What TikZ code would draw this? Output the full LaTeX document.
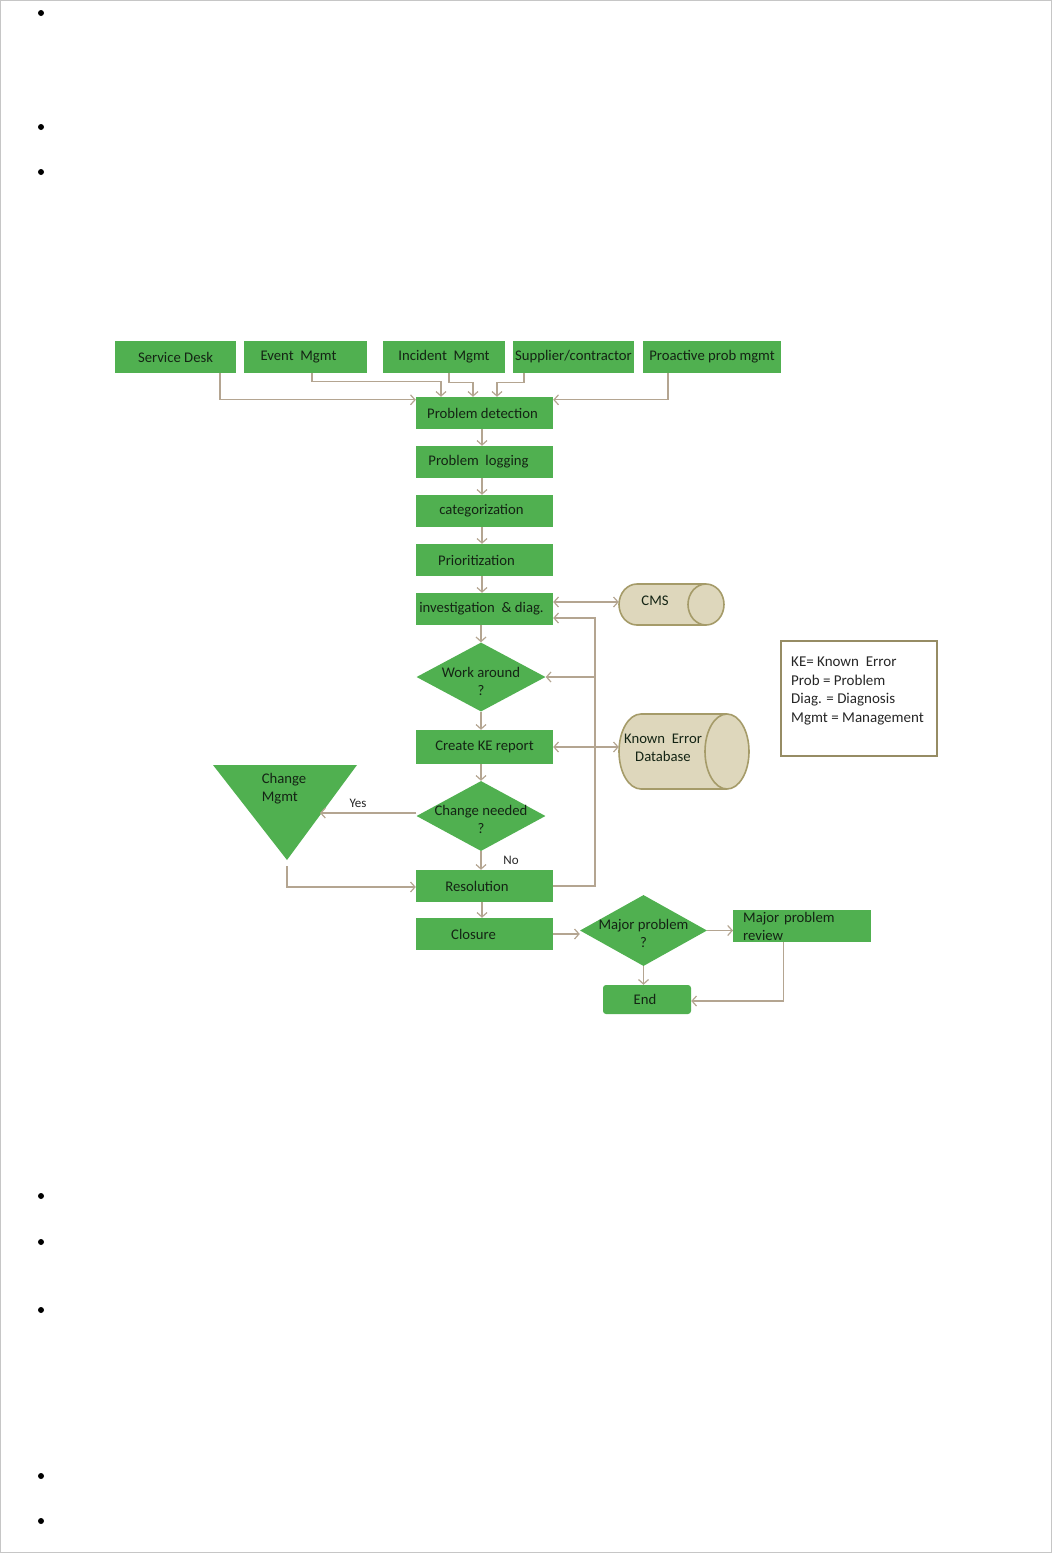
\documentclass[tikz,border=0pt]{standalone}
\usepackage{fontspec}
\setmainfont{Carlito}
\usetikzlibrary{shapes.geometric,arrows.meta}
\definecolor{gfill}{RGB}{80,176,80}
\definecolor{gtext}{RGB}{20,36,20}
\definecolor{conn}{RGB}{180,165,145}
\definecolor{cylfill}{RGB}{222,215,188}
\definecolor{cyldraw}{RGB}{165,155,105}
\definecolor{legdraw}{RGB}{150,140,100}
\begin{document}
\begin{tikzpicture}[x=1pt,y=-1pt,
  font=\fontsize{14.7}{17}\selectfont,
  gbox/.style={rectangle,fill=gfill,text=gtext,inner sep=0pt,minimum height=32pt,minimum width=137pt},
  gdia/.style={diamond,fill=gfill,inner sep=0pt,minimum width=129pt,minimum height=69pt},
  dlabel/.style={align=center,text=gtext,font=\fontsize{14.7}{18}\selectfont},
  cylline/.style={draw=cyldraw,line width=1.6pt},
  arr/.style={draw=conn,line width=1.2pt,-{Straight Barb[length=4.5pt,width=10pt]}},
  darr/.style={draw=conn,line width=1.2pt,{Straight Barb[length=4.5pt,width=10pt]}-{Straight Barb[length=4.5pt,width=10pt]}},
  small/.style={text=black!85,font=\fontsize{13}{15}\selectfont}]
\useasboundingbox (0,0) rectangle (1052,1553);
\draw[gray!45,line width=1pt] (0.5,0.5) rectangle (1051.5,1552.5);
% bullets
\foreach \yy in {13,127,172,1196,1242,1310,1476,1521}
  \fill (41,\yy) circle (3pt);

% sources
\node[gbox,minimum width=121pt] (sd) at (175.5,357) {Service Desk};
\node[gbox,minimum width=123pt] (em) at (305.5,357) {Event\ \ Mgmt\hspace*{14pt}};
\node[gbox,minimum width=122pt] (im) at (444,357) {Incident\ \ Mgmt};
\node[gbox,minimum width=121pt] (sc) at (573.5,357) {Supplier/contractor};
\node[gbox,minimum width=138pt] (pp) at (712,357) {Proactive prob mgmt};

% main chain
\node[gbox] (pd) at (484.5,413) {Problem detection\hspace*{4pt}};
\node[gbox] (pl) at (484.5,462) {Problem\ \ logging\hspace*{12pt}};
\node[gbox] (cat) at (484.5,511) {categorization\hspace*{6pt}};
\node[gbox] (pri) at (484.5,560) {Prioritization\hspace*{16pt}};
\node[gbox] (inv) at (484.5,609) {investigation\ \ \& diag.\hspace*{6pt}};
\node[gdia,label={[dlabel,yshift=-4pt]center:Work around\\?}] (wa) at (481,677) {};
\node[gbox,minimum height=34pt] (ke) at (484.5,747) {Create KE report};
\node[gdia,minimum height=70pt,label={[dlabel,yshift=-3.5pt]center:Change needed\\?}] (cn) at (481,816) {};
\node[gbox] (res) at (484.5,886) {Resolution\hspace*{15pt}};
\node[gbox] (clo) at (484.5,934) {Closure\hspace*{22pt}};
\node[gdia,minimum width=127pt,minimum height=71pt,label={[dlabel,yshift=-3pt]center:Major problem\\?}] (mp) at (643.5,930.5) {};
\node[gbox,minimum width=138pt,align=left,text width=118pt,font=\fontsize{14.7}{18}\selectfont,anchor=north west] (mpr) at (733,910) {Major problem\\review};
\node[gbox,minimum width=88pt,minimum height=29pt,rounded corners=3pt] (end) at (647,999.5) {End\hspace*{4pt}};

% databases (drawn by hand, with invisible nodes for the anchors)
\node[inner sep=0pt,minimum width=105pt,minimum height=41pt] (cms) at (671.5,604.5) {};
\filldraw[cylline,fill=cylfill] (637,604.5) ellipse [x radius=18pt,y radius=20.5pt];
\fill[cylfill] (637,584) rectangle (706,625);
\draw[cylline] (637,584) -- (706,584) (637,625) -- (706,625);
\filldraw[cylline,fill=cylfill] (706,604.5) ellipse [x radius=18pt,y radius=20.5pt];
\node[text=gtext] (cmst) at (655,601) {CMS};

\node[inner sep=0pt,minimum width=130pt,minimum height=75pt] (kedb) at (684,751.5) {};
\filldraw[cylline,fill=cylfill] (641,751.5) ellipse [x radius=22pt,y radius=37.5pt];
\fill[cylfill] (641,714) rectangle (727,789);
\draw[cylline] (641,714) -- (727,714) (641,789) -- (727,789);
\filldraw[cylline,fill=cylfill] (727,751.5) ellipse [x radius=22pt,y radius=37.5pt];
\node[text=gtext,align=center,font=\fontsize{14.7}{18}\selectfont] (kedbt) at (663,748) {Known\ \ Error\\Database};

% change mgmt triangle
\coordinate (cmA) at (213,765);
\coordinate (cmC) at (357,765);
\coordinate (cmD) at (287,860);
\fill[gfill] (cmA) -- (cmC) -- (cmD) -- cycle;
\node[text=gtext,align=left,font=\fontsize{14.7}{18}\selectfont] (cmt) at (284,789) {Change\\Mgmt};
\coordinate (cmR) at (320,813);
\coordinate (cmB) at (287,866);

% legend
\node[draw=legdraw,line width=2pt,minimum width=156pt,minimum height=115pt,inner sep=0pt] (leg) at (859,698.5) {};
\node[anchor=north west,align=left,text=black!85,font=\fontsize{15}{18.5}\selectfont,inner sep=0pt] (legt) at (791,657) {KE= Known\ \ Error\\Prob = Problem\\Diag. = Diagnosis\\Mgmt = Management};

% connectors from sources
\draw[arr] ([xshift=44.5pt]sd.south) |- ([yshift=-3pt]pd.north west);
\draw[arr] ([xshift=6.5pt]em.south) -- ++(0,8) -| ([xshift=-43.5pt]pd.north);
\draw[arr] ([xshift=5pt]im.south) -- ++(0,9) -| ([xshift=-11.5pt]pd.north);
\draw[arr] ([xshift=-49.5pt]sc.south) -- ++(0,9) -| ([xshift=12.5pt]pd.north);
\draw[arr] ([xshift=-44pt]pp.south) |- ([yshift=-3pt]pd.north east);

% chain
\draw[arr] ([xshift=-2.5pt]pd.south) -- ([xshift=-2.5pt]pl.north);
\draw[arr] ([xshift=-2.5pt]pl.south) -- ([xshift=-2.5pt]cat.north);
\draw[arr] ([xshift=-2.5pt]cat.south) -- ([xshift=-2.5pt]pri.north);
\draw[arr] ([xshift=-2.5pt]pri.south) -- ([xshift=-2.5pt]inv.north);
\draw[arr] (wa.north |- inv.south) -- (wa.north);
\draw[arr] (wa.south) -- (wa.south |- ke.north);
\draw[arr] (cn.north |- ke.south) -- (cn.north);
\draw[arr] (cn.south) -- (cn.south |- res.north);
\draw[arr] ([xshift=-2.5pt]res.south) -- ([xshift=-2.5pt]clo.north);
\node[small] (no) at (511,860) {No};

% databases
\draw[darr] ([yshift=7pt]inv.east) -- ([yshift=7pt]inv.east -| cms.west);
\draw[darr] (ke.east) -- (ke.east -| kedb.west);

% feedback
\coordinate (fb) at (595,618);
\draw[arr] (res.east) -| (fb) -- ([yshift=-9pt]inv.east);
\draw[arr] (fb |- wa.east) -- (wa.east);

% change
\draw[arr] ([yshift=3pt]cn.west) -- (cmR);
\node[small] (yes) at (358,803) {Yes};
\draw[arr] (cmB) |- ([yshift=-1pt]res.west);

% closing
\draw[arr] (clo.east) -- (clo.east -| mp.west);
\draw[arr] (mp.east) -- (mp.east -| mpr.west);
\draw[arr] (mp.south) -- (mp.south |- end.north);
\draw[arr] ([xshift=-19pt]mpr.south) |- ([yshift=-1.5pt]end.east);
\end{tikzpicture}
\end{document}
